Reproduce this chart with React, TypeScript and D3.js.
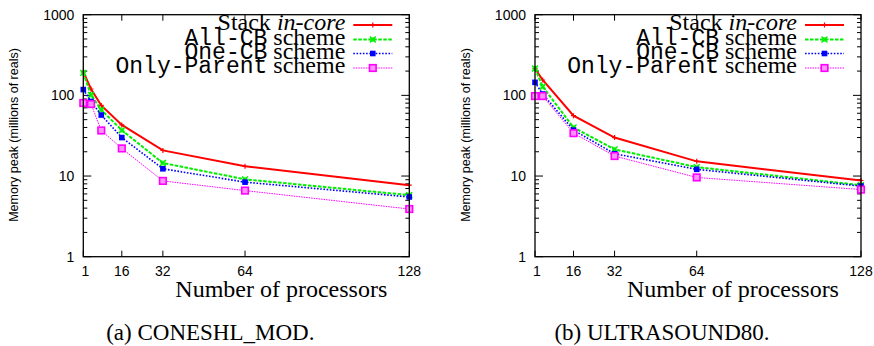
import * as d3 from "d3";

// (a) CONESHL_MOD
const procsA = [1, 4, 8, 16, 32, 64, 128];
const stackA = [195, 120, 75, 43, 20.8, 13.2, 7.7];
const allCbA = [190, 101, 66, 37, 14.5, 9.1, 5.8];
const oneCbA = [118, 84, 57, 30, 12.3, 8.4, 5.5];
const onlyParentA = [80.5, 78, 36.7, 22, 8.7, 6.6, 3.9];

// (b) ULTRASOUND80
const procsB = [1, 4, 16, 32, 64, 128];
const stackB = [215, 155, 56, 30, 15.2, 8.8];
const allCbB = [215, 128, 40, 21.4, 12.9, 7.7];
const oneCbB = [145, 104, 37, 18.9, 12.1, 7.5];
const onlyParentB = [98, 98, 34, 17.7, 9.6, 6.8];

const xTicks = [1, 16, 32, 64, 128];
const yTicks = [1, 10, 100, 1000];

const seriesStyle = [
  { key: "stack", color: "#ff0000", width: 2, dash: null, marker: "plus" },
  { key: "allcb", color: "#00ee00", width: 2, dash: "3.5 1.5", marker: "cross" },
  { key: "onecb", color: "#0000ff", width: 1.6, dash: "1.6 1.6", marker: "fsquare" },
  { key: "only", color: "#ff00ff", width: 1, dash: "1.5 1", marker: "osquare" },
];

const serif = "'Liberation Serif', 'Times New Roman', serif";
const mono = "'Liberation Mono', 'Courier New', monospace";
const sans = "'Liberation Sans', Arial, sans-serif";

function Marker({ type, x, y, color }) {
  if (type === "plus")
    return <path d={`M${x - 2.5},${y}H${x + 2.5}M${x},${y - 2.5}V${y + 2.5}`} stroke={color} strokeWidth={1.2} />;
  if (type === "cross")
    return (
      <g>
        <rect x={x - 2.5} y={y - 2.5} width={5} height={5} fill={color} opacity={0.6} />
        <path d={`M${x - 3},${y - 3}L${x + 3},${y + 3}M${x - 3},${y + 3}L${x + 3},${y - 3}`} stroke={color} strokeWidth={1.3} />
      </g>
    );
  if (type === "fsquare")
    return <rect x={x - 2.8} y={y - 2.8} width={5.6} height={5.6} fill={color} />;
  return <rect x={x - 3.3} y={y - 3.3} width={6.6} height={6.6} fill="#ff90ff" stroke={color} strokeWidth={1.6} />;
}

function Panel({ left, procs, series, caption }) {
  const x0 = left, x1 = left + 326;
  const yTop = 14.7, yBot = 256.7;
  const x = d3.scaleLinear().domain([1, 128]).range([x0, x1]);
  const y = d3.scaleLog().domain([1, 1000]).range([yBot, yTop]);
  const line = d3.line<[number, number]>().x(d => x(d[0])).y(d => y(d[1]));

  const minors: number[] = [];
  [1, 10, 100].forEach(d => { for (let k = 2; k <= 9; k++) minors.push(k * d); });

  const legendRows = [
    { base: 30, parts: [{ t: "Stack ", f: serif }, { t: "in-core", f: serif, it: true }] },
    { base: 44.5, parts: [{ t: "All-CB", f: mono }, { t: " scheme", f: serif }] },
    { base: 58.5, parts: [{ t: "One-CB", f: mono }, { t: " scheme", f: serif }] },
    { base: 73, parts: [{ t: "Only-Parent", f: mono }, { t: " scheme", f: serif }] },
  ];
  const lgTextX = x1 - 64;
  const lgLine0 = x1 - 56, lgLine1 = x1 - 17;

  return (
    <g>
      {/* y ticks */}
      {yTicks.map(v => (
        <g key={"y" + v}>
          <line x1={x0} x2={x0 + 8} y1={y(v)} y2={y(v)} stroke="#000" />
          <line x1={x1} x2={x1 - 8} y1={y(v)} y2={y(v)} stroke="#000" />
          <text x={x0 - 9} y={y(v)} dy="0.35em" textAnchor="end" fontFamily={sans} fontSize={14}>{v}</text>
        </g>
      ))}
      {minors.map(v => (
        <g key={"m" + v}>
          <line x1={x0} x2={x0 + 4} y1={y(v)} y2={y(v)} stroke="#000" />
          <line x1={x1} x2={x1 - 4} y1={y(v)} y2={y(v)} stroke="#000" />
        </g>
      ))}
      {/* x ticks */}
      {xTicks.map(v => (
        <g key={"x" + v}>
          <line x1={x(v)} x2={x(v)} y1={yBot} y2={yBot - 6} stroke="#000" />
          <line x1={x(v)} x2={x(v)} y1={yTop} y2={yTop + 6} stroke="#000" />
          <text x={x(v) + (v === 1 ? 2 : 0)} y={276} textAnchor="middle" fontFamily={sans} fontSize={14}>{v}</text>
        </g>
      ))}
      <text transform={`translate(${left - 65},135) rotate(-90)`} textAnchor="middle" fontFamily={sans} fontSize={12.5}>
        Memory peak (millions of reals)
      </text>
      <text x={left + 198} y={296.7} textAnchor="middle" fontFamily={serif} fontSize={24}>Number of processors</text>
      <text x={left + 127} y={340} textAnchor="middle" fontFamily={serif} fontSize={23}>{caption}</text>

      {/* series */}
      {series.map((vals, i) => {
        const s = seriesStyle[i];
        const pts = procs.map((p, j) => [p, vals[j]] as [number, number]);
        return (
          <g key={s.key}>
            <path d={line(pts)} fill="none" stroke={s.color} strokeWidth={s.width} strokeDasharray={s.dash || undefined} />
            {pts.map((d, j) => <Marker key={j} type={s.marker} x={x(d[0])} y={y(d[1])} color={s.color} />)}
          </g>
        );
      })}

      {/* legend */}
      {legendRows.map((r, i) => {
        const s = seriesStyle[i];
        const ly = r.base - 5;
        return (
          <g key={"lg" + i}>
            <text x={lgTextX} y={r.base} textAnchor="end" fontSize={22}>
              {r.parts.map((p, k) => (
                <tspan key={k} fontFamily={p.f} fontStyle={p.it ? "italic" : "normal"} fontSize={p.f === mono ? 23 : 24}>{p.t}</tspan>
              ))}
            </text>
            <line x1={lgLine0} x2={lgLine1} y1={ly} y2={ly} stroke={s.color} strokeWidth={s.width} strokeDasharray={s.dash || undefined} />
            <Marker type={s.marker} x={(lgLine0 + lgLine1) / 2} y={ly} color={s.color} />
          </g>
        );
      })}

      <rect x={x0} y={yTop} width={x1 - x0} height={yBot - yTop} fill="none" stroke="#000" strokeWidth={1.3} />
    </g>
  );
}

export default function App() {
  return (
    <svg width={874} height={346} style={{ position: "absolute", left: 0, top: 0, background: "#fff" }}>
      <Panel left={83.3} procs={procsA} series={[stackA, allCbA, oneCbA, onlyParentA]} caption="(a) CONESHL_MOD." />
      <Panel left={535} procs={procsB} series={[stackB, allCbB, oneCbB, onlyParentB]} caption="(b) ULTRASOUND80." />
    </svg>
  );
}
